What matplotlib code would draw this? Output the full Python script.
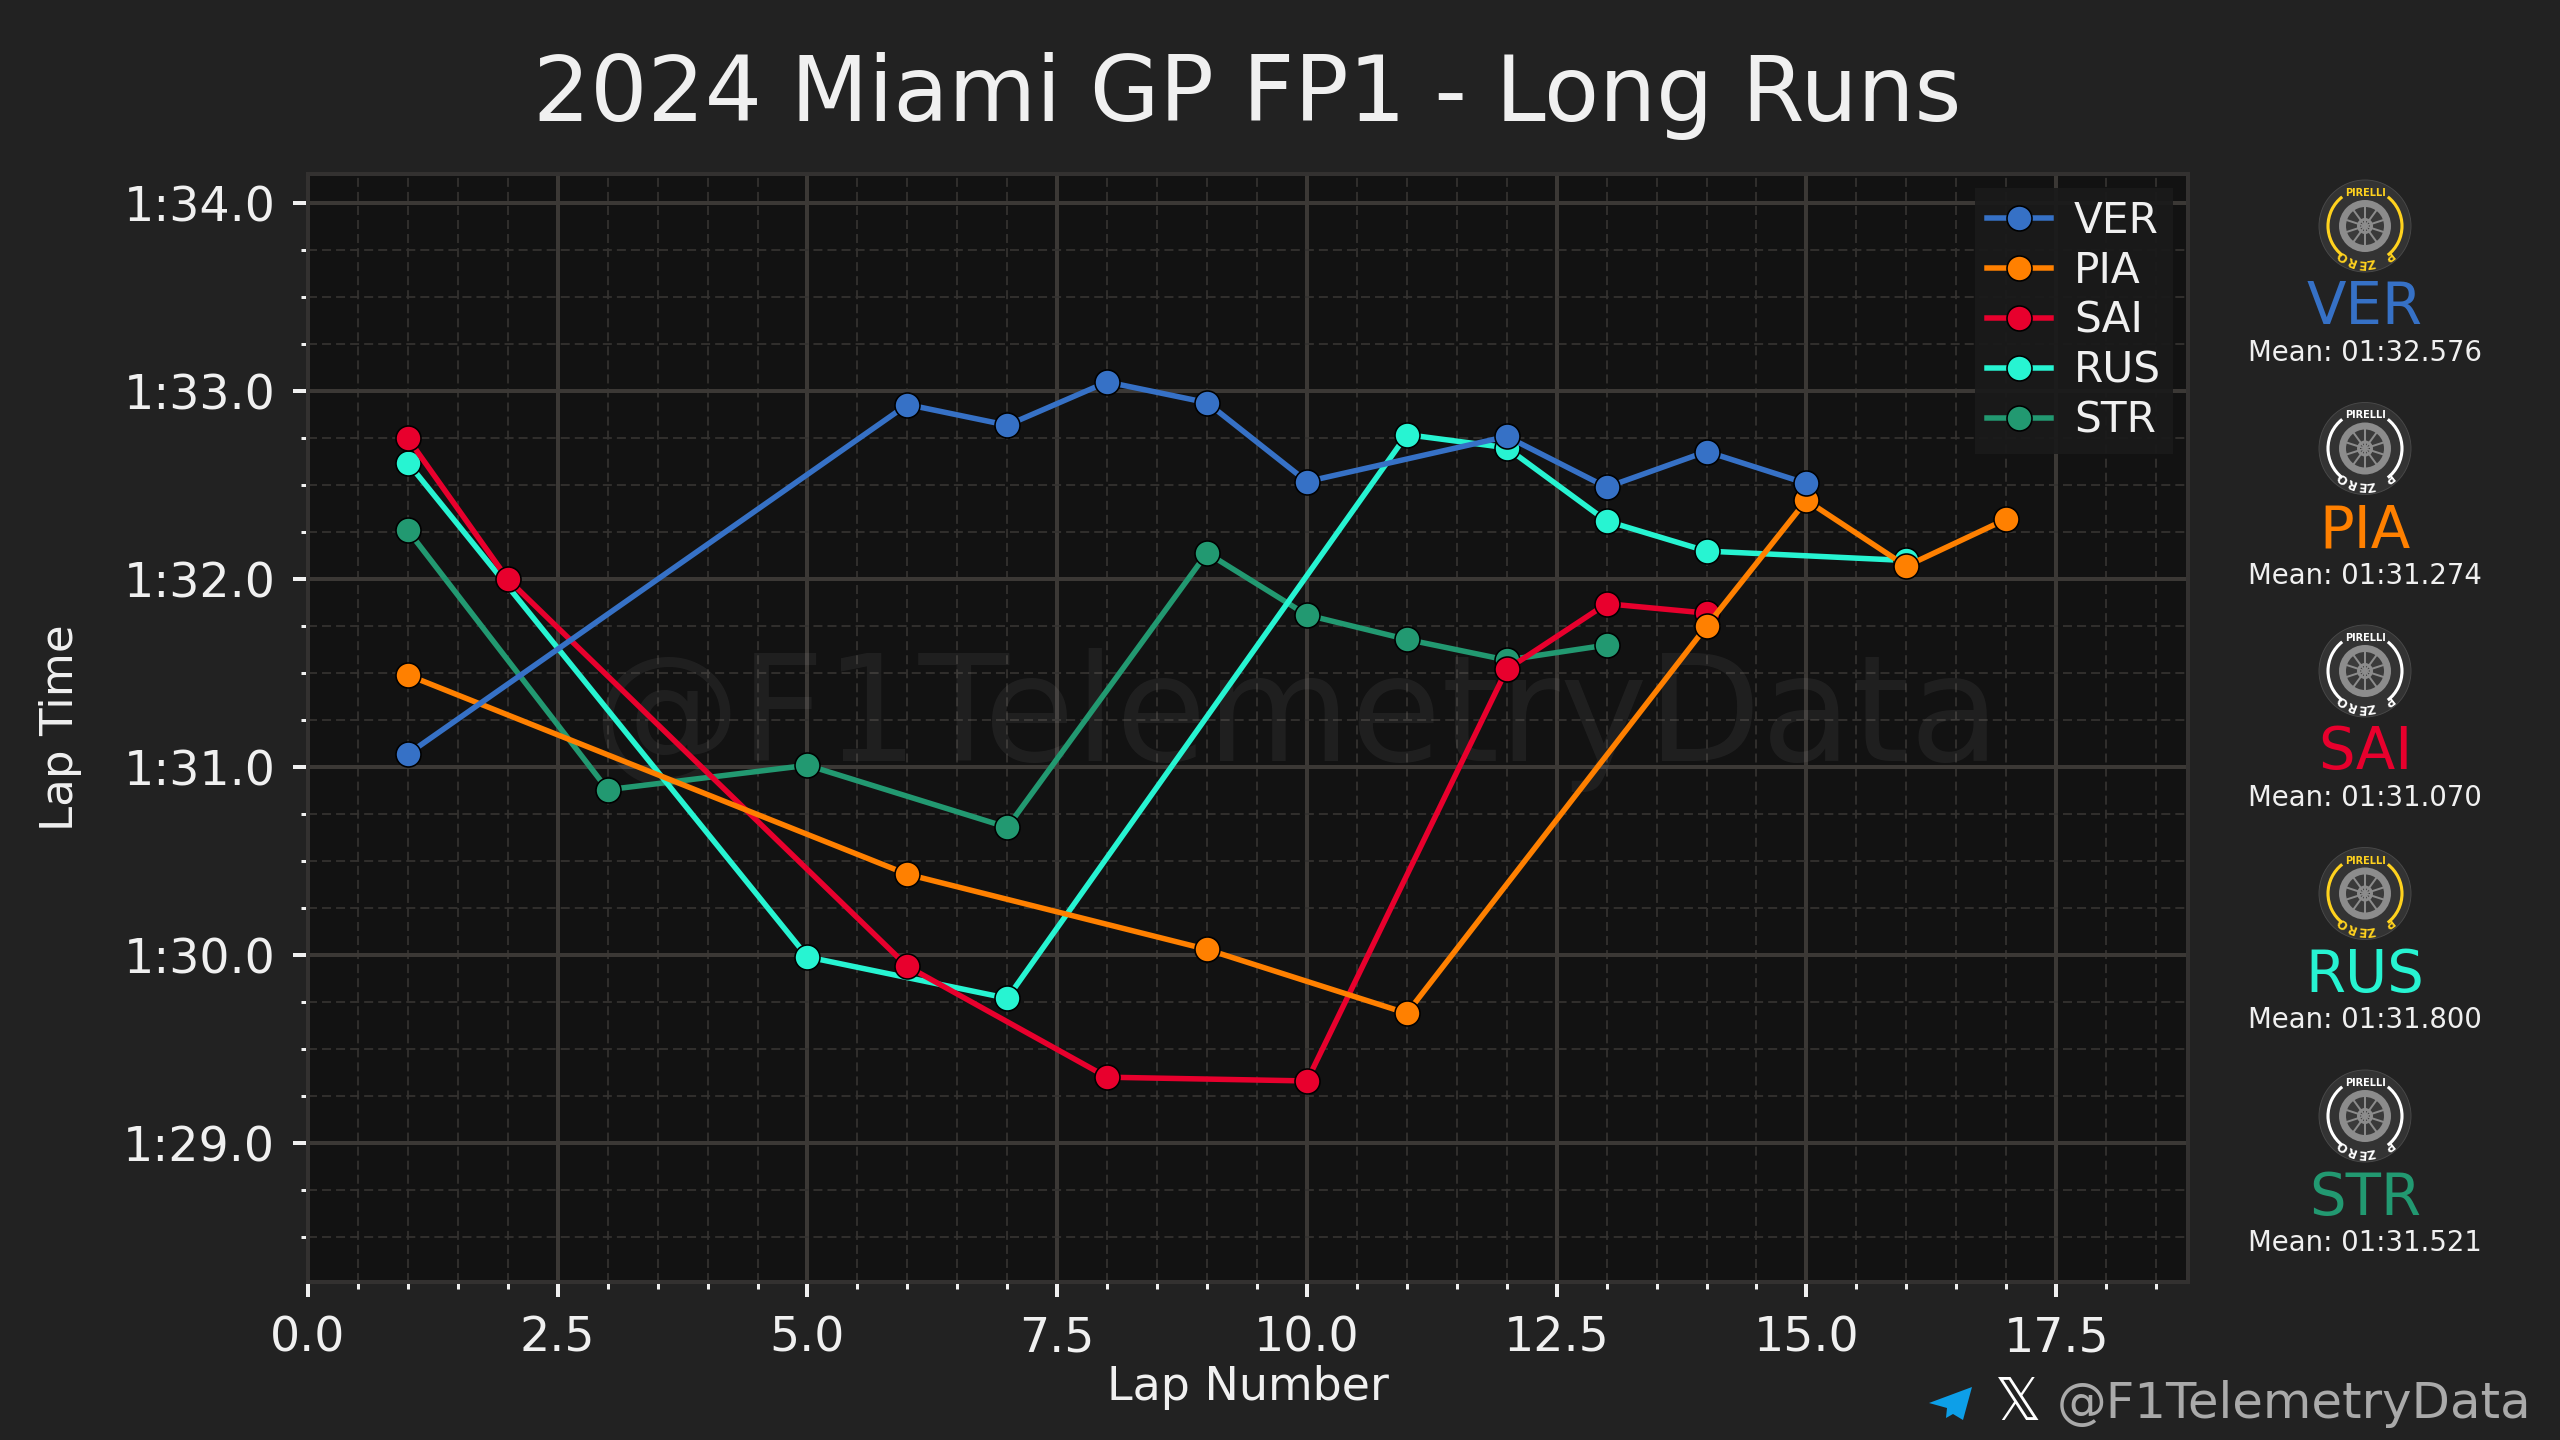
import numpy as np
import matplotlib
matplotlib.use('Agg')
import matplotlib.pyplot as plt
from matplotlib.patches import Circle, Arc, Polygon
from matplotlib.ticker import MultipleLocator, FuncFormatter

W, H = 2560, 1440

drivers = ['VER', 'PIA', 'SAI', 'RUS', 'STR']
colors = ['#3671C6', '#FF8000', '#E8002D', '#27F4D2', '#229971']
compounds = ['#FFD21E', '#FFFFFF', '#FFFFFF', '#FFD21E', '#FFFFFF']
means = ['Mean: 01:32.576', 'Mean: 01:31.274', 'Mean: 01:31.070', 'Mean: 01:31.800', 'Mean: 01:31.521']

ver_laps = [1, 6, 7, 8, 9, 10, 12, 13, 14, 15]
ver_times = [91.07, 92.93, 92.82, 93.05, 92.94, 92.52, 92.76, 92.49, 92.68, 92.51]
pia_laps = [1, 6, 9, 11, 14, 15, 16, 17]
pia_times = [91.49, 90.43, 90.03, 89.69, 91.75, 92.42, 92.07, 92.32]
sai_laps = [1, 2, 6, 8, 10, 12, 13, 14]
sai_times = [92.75, 92.00, 89.94, 89.35, 89.33, 91.52, 91.87, 91.82]
rus_laps = [1, 5, 7, 11, 12, 13, 14, 16]
rus_times = [92.62, 89.99, 89.77, 92.77, 92.70, 92.31, 92.15, 92.10]
str_laps = [1, 3, 5, 7, 9, 10, 11, 12, 13]
str_times = [92.26, 90.88, 91.01, 90.68, 92.14, 91.81, 91.68, 91.57, 91.65]

all_laps = [ver_laps, pia_laps, sai_laps, rus_laps, str_laps]
all_times = [ver_times, pia_times, sai_times, rus_times, str_times]

BG = '#222222'
AX_BG = '#121212'
GRID = '#3b3835'
TEXT = '#f0f0f0'
LINE_PX = 0.45  # points per pixel at dpi 160


def fx(x):
    return x / W


def fy(y):
    return 1 - y / H


def format_laptime(v, pos):
    return f'{int(v // 60)}:{v % 60:04.1f}'


def draw_tyre(ov, cx, cy, color):
    ov.add_patch(Circle((cx, cy), 46, fc='#333333', ec='#4a4a4a', lw=0.4))
    ov.add_patch(Arc((cx, cy), 74, 74, theta1=-52, theta2=52, color=color, lw=1.4))
    ov.add_patch(Arc((cx, cy), 74, 74, theta1=128, theta2=232, color=color, lw=1.4))
    ov.add_patch(Circle((cx, cy), 26, fc='#8c8c8c', ec='none'))
    ov.add_patch(Circle((cx, cy), 19, fc='#3a3a3a', ec='none'))
    for a in np.arange(0, 360, 36) + 18:
        ov.plot([cx, cx + 20 * np.cos(np.radians(a))], [cy, cy + 20 * np.sin(np.radians(a))],
                color='#8c8c8c', lw=0.9, solid_capstyle='butt')
    ov.add_patch(Circle((cx, cy), 8, fc='#8c8c8c', ec='none'))
    ov.add_patch(Circle((cx, cy), 5, fc='#2a2a2a', ec='none'))
    ov.text(cx, cy - 33, 'PIRELLI', color=color, fontsize=4.4, fontweight='bold', ha='center', va='center')
    for ch, a in zip('PZERO', [38, 9, -5, -21, -37]):
        r = np.radians(a)
        ov.text(cx + 37 * np.sin(r), cy + 37 * np.cos(r), ch, color=color, fontsize=5.5, fontweight='bold',
                ha='center', va='center', rotation=180 + a, rotation_mode='anchor')


fig = plt.figure(figsize=(16, 9), dpi=160, facecolor=BG)
ax = fig.add_axes([fx(308), fy(1282), fx(2188 - 308), (1282 - 174) / H], facecolor=AX_BG)

ax.set_xlim(0, 18.82)
ax.set_ylim(88.26, 94.157)

ax.xaxis.set_major_locator(MultipleLocator(2.5))
ax.xaxis.set_minor_locator(MultipleLocator(0.5))
ax.yaxis.set_major_locator(MultipleLocator(1))
ax.yaxis.set_minor_locator(MultipleLocator(0.25))
ax.yaxis.set_major_formatter(FuncFormatter(format_laptime))

ax.grid(which='major', color=GRID, lw=4 * LINE_PX, zorder=0)
ax.grid(which='minor', color='#343230', lw=1.8 * LINE_PX, ls=(0, (5, 2.8)), zorder=0)
ax.set_axisbelow(True)

ax.tick_params(which='major', colors=TEXT, length=15 * LINE_PX, width=4 * LINE_PX, labelsize=21.4, pad=8)
ax.tick_params(which='minor', colors=TEXT, length=7 * LINE_PX, width=3 * LINE_PX)
for s in ax.spines.values():
    s.set_color('#333130')
    s.set_linewidth(4 * LINE_PX)

# watermark sits under the lines
ax.text(fx(1296), fy(720), '@F1TelemetryData', color='white', alpha=0.055, fontsize=66.5,
        ha='center', va='center', transform=fig.transFigure, zorder=1.5)

# last driver first, VER ends up on top
handles = {}
for i in reversed(range(len(drivers))):
    line, = ax.plot(all_laps[i], all_times[i], color=colors[i], lw=5.5 * LINE_PX, marker='o',
                    ms=25 * LINE_PX, mec='black', mew=1.6 * LINE_PX, label=drivers[i], zorder=3 + (5 - i))
    handles[drivers[i]] = line

leg = ax.legend([handles[d] for d in drivers], drivers, loc='upper right',
                bbox_to_anchor=(fx(2173), fy(188)), bbox_transform=fig.transFigure,
                borderaxespad=0, fontsize=19, labelcolor=TEXT, facecolor='#1a1a1a', edgecolor='none',
                framealpha=0.92, fancybox=False, handlelength=1.52, handletextpad=0.55,
                labelspacing=0.19, borderpad=0.28)
leg.set_zorder(20)

fig.text(fx(1247), fy(96), '2024 Miami GP FP1 - Long Runs', color=TEXT, fontsize=40.5, ha='center', va='center')
fig.text(fx(60), fy(728), 'Lap Time', color=TEXT, fontsize=20.3, rotation=90, ha='center', va='center')
fig.text(fx(1248), fy(1387), 'Lap Number', color=TEXT, fontsize=20.7, ha='center', va='center')

# overlay in pixel coordinates for the tyre column and the footer
ov = fig.add_axes([0, 0, 1, 1], facecolor='none')
ov.set_xlim(0, W)
ov.set_ylim(H, 0)
ov.axis('off')
ov.set_zorder(5)

for i, d in enumerate(drivers):
    y0 = 226 + i * 222.5
    draw_tyre(ov, 2365, y0, compounds[i])
    ov.text(2365, y0 + 82, d, color=colors[i], fontsize=26, ha='center', va='center')
    ov.text(2365, y0 + 127, means[i], color=TEXT, fontsize=12.4, ha='center', va='center')

ov.add_patch(Polygon([(1972, 1387), (1929, 1403), (1947, 1408), (1946, 1418), (1953, 1414), (1963, 1420)],
                     closed=True, fc='#0d9fe8', ec='none'))
ov.text(2018, 1404, '\U0001D54F', color='white', fontsize=26, ha='center', va='center')
ov.text(2531, 1404, '@F1TelemetryData', color='#aaaaaa', fontsize=22.4, ha='right', va='center')

fig.savefig('out.png', dpi=160, facecolor=BG)
